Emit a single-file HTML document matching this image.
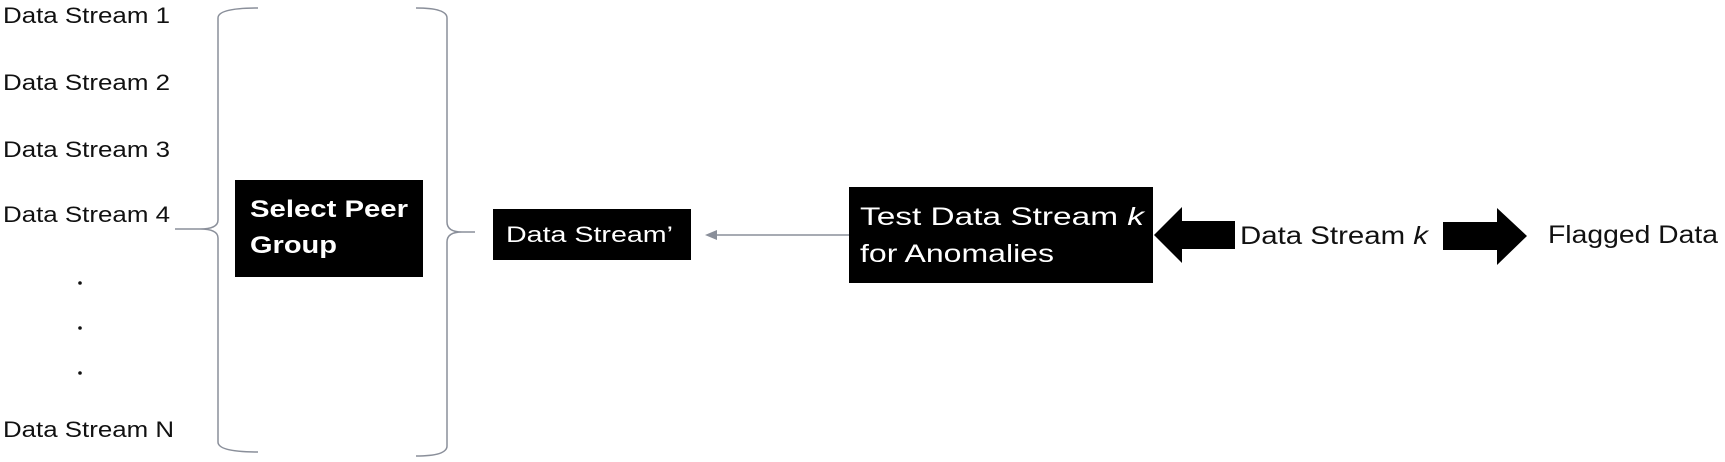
<!DOCTYPE html>
<html><head><meta charset="utf-8"><style>
html,body{margin:0;padding:0;background:#fff;}
svg{display:block;}
text{font-family:"Liberation Sans",sans-serif;}
</style></head><body>
<svg width="1725" height="462" viewBox="0 0 1725 462" xmlns="http://www.w3.org/2000/svg">
<g font-size="22" fill="#111">
<text x="3" y="23" textLength="167" lengthAdjust="spacingAndGlyphs">Data Stream 1</text>
<text x="3" y="90" textLength="167" lengthAdjust="spacingAndGlyphs">Data Stream 2</text>
<text x="3" y="157" textLength="167" lengthAdjust="spacingAndGlyphs">Data Stream 3</text>
<text x="3" y="222" textLength="167" lengthAdjust="spacingAndGlyphs">Data Stream 4</text>
<text x="3" y="437" textLength="171" lengthAdjust="spacingAndGlyphs">Data Stream N</text>
</g>
<circle cx="80" cy="283" r="1.8" fill="#111"/>
<circle cx="80" cy="328" r="1.8" fill="#111"/>
<circle cx="80" cy="373" r="1.8" fill="#111"/>
<g fill="none" stroke="#8a8f9a" stroke-width="1.5">
<path d="M258,8 Q218,8 218,18 L218,220 Q218,229 200,229 L175,229 M200,229 Q218,229 218,238 L218,442 Q218,452 258,452"/>
<path d="M416,8 Q447,8 447,18 L447,222 Q447,232 462,232 L475,232 M462,232 Q447,232 447,242 L447,446 Q447,456 416,456"/>
<line x1="849" y1="235" x2="715" y2="235"/>
</g>
<polygon points="705,235 717,230 717,240" fill="#8a8f9a"/>
<rect x="235" y="180" width="188" height="97" fill="#000"/>
<text x="250" y="217" font-size="24" font-weight="bold" fill="#fff" textLength="158" lengthAdjust="spacingAndGlyphs">Select Peer</text>
<text x="250" y="253" font-size="24" font-weight="bold" fill="#fff" textLength="87" lengthAdjust="spacingAndGlyphs">Group</text>
<rect x="493" y="209" width="198" height="51" fill="#000"/>
<text x="506" y="242" font-size="22" fill="#fff" textLength="167" lengthAdjust="spacingAndGlyphs">Data Stream’</text>
<rect x="849" y="187" width="304" height="96" fill="#000"/>
<text x="860" y="225" font-size="25" fill="#fff" textLength="284" lengthAdjust="spacingAndGlyphs">Test Data Stream <tspan font-style="italic">k</tspan></text>
<text x="860" y="262" font-size="25" fill="#fff" textLength="194" lengthAdjust="spacingAndGlyphs">for Anomalies</text>
<polygon points="1154,235 1182,207 1182,221 1235,221 1235,249 1182,249 1182,263" fill="#000"/>
<text x="1240" y="244" font-size="25" fill="#111" textLength="188" lengthAdjust="spacingAndGlyphs">Data Stream <tspan font-style="italic">k</tspan></text>
<polygon points="1443,222 1497,222 1497,208 1527,236 1497,265 1497,250 1443,250" fill="#000"/>
<text x="1548" y="243" font-size="25" fill="#111" textLength="170" lengthAdjust="spacingAndGlyphs">Flagged Data</text>
</svg>
</body></html>
